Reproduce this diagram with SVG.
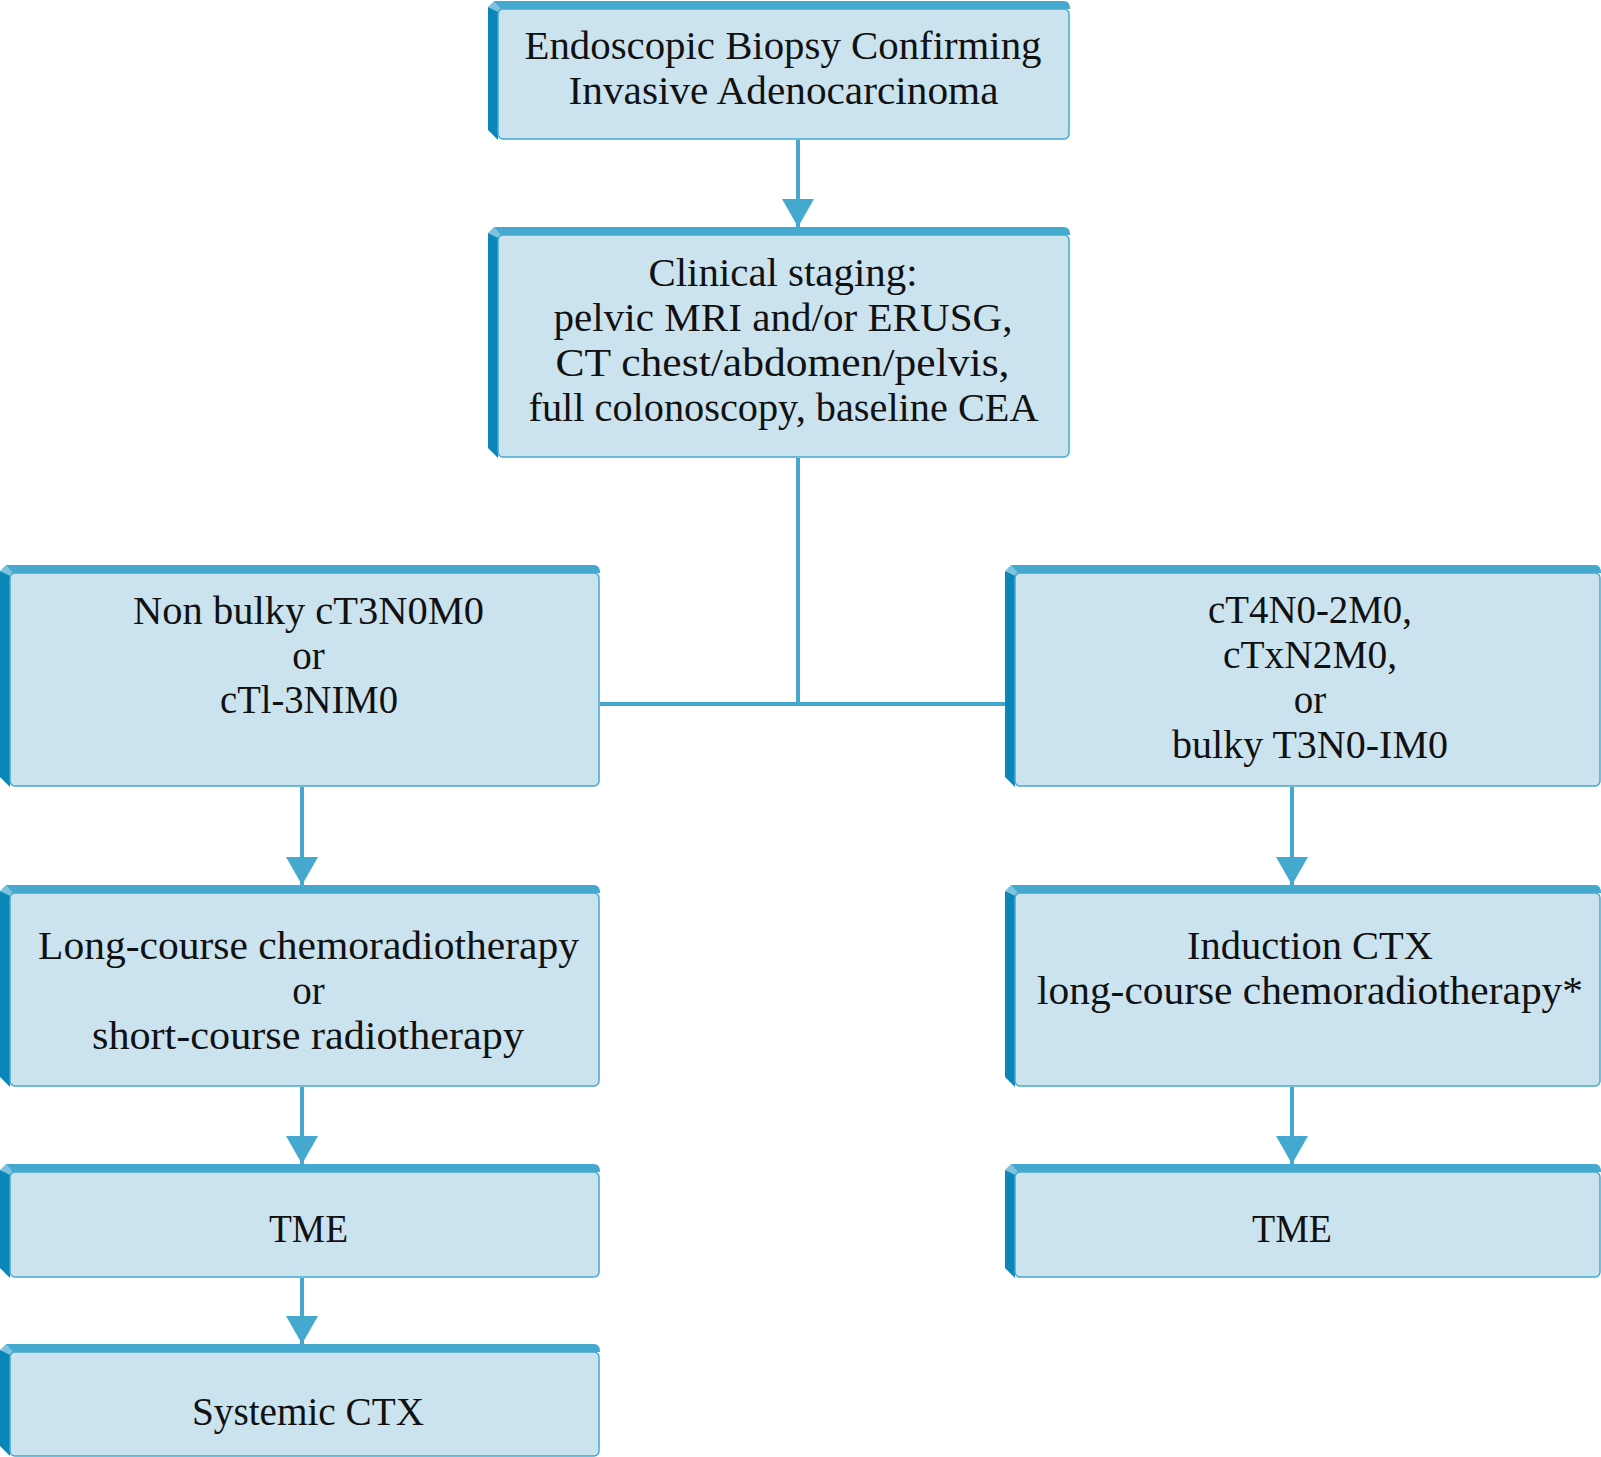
<svg xmlns="http://www.w3.org/2000/svg" width="1601" height="1457" viewBox="0 0 1601 1457">
<style>
.top{fill:#45a9cf}
.lft{fill:#0a87b8}
.cor{fill:#80c2de}
.face{fill:#cbe3ef;stroke:#45a9cf;stroke-width:1.5}
.t{font-family:"Liberation Serif","Times New Roman",serif;font-size:39px;fill:#111;text-anchor:middle}
.c{stroke:#45a9cf;stroke-width:4;fill:none}
</style>
<defs>
<marker id="ah" markerWidth="28" markerHeight="32" refX="28" refY="16" orient="auto" markerUnits="userSpaceOnUse" viewBox="0 0 28 32">
<path d="M0,0 L28,16 L0,32 Z" fill="#45a9cf"/>
</marker>
</defs>
<rect width="1601" height="1457" fill="#fff"/>

<g id="connectors">
<line class="c" x1="798" y1="140" x2="798" y2="227" marker-end="url(#ah)"/>
<polyline class="c" points="798,458 798,704"/>
<line class="c" x1="600" y1="704" x2="1005" y2="704"/>
<line class="c" x1="302" y1="787" x2="302" y2="885" marker-end="url(#ah)"/>
<line class="c" x1="302" y1="1087" x2="302" y2="1164" marker-end="url(#ah)"/>
<line class="c" x1="302" y1="1278" x2="302" y2="1344" marker-end="url(#ah)"/>
<line class="c" x1="1292" y1="787" x2="1292" y2="885" marker-end="url(#ah)"/>
<line class="c" x1="1292" y1="1087" x2="1292" y2="1164" marker-end="url(#ah)"/>
</g>

<g id="biopsy">
<path class="top" d="M494,1 L1064,1 Q1070,1 1070,9 L498,9 Z"/>
<path class="lft" d="M488,7 L498,9 L498,140 L488,130 Z"/>
<path class="cor" d="M488,7 L494,1 L501,9 L498,12 Z"/>
<rect class="face" x="498" y="9" width="571" height="130" rx="5"/>
<text class="t" x="783" y="59" textLength="517" lengthAdjust="spacingAndGlyphs">Endoscopic Biopsy Confirming</text>
<text class="t" x="783.5" y="104" textLength="430" lengthAdjust="spacingAndGlyphs">Invasive Adenocarcinoma</text>
</g>

<g id="staging">
<path class="top" d="M494,227 L1064,227 Q1070,227 1070,235 L498,235 Z"/>
<path class="lft" d="M488,233 L498,235 L498,458 L488,448 Z"/>
<path class="cor" d="M488,233 L494,227 L501,235 L498,238 Z"/>
<rect class="face" x="498" y="235" width="571" height="222" rx="5"/>
<text class="t" x="783" y="286" textLength="269" lengthAdjust="spacingAndGlyphs">Clinical staging:</text>
<text class="t" x="783" y="331" textLength="459" lengthAdjust="spacingAndGlyphs">pelvic MRI and/or ERUSG,</text>
<text class="t" x="782.5" y="376" textLength="454" lengthAdjust="spacingAndGlyphs">CT chest/abdomen/pelvis,</text>
<text class="t" x="783.5" y="421" textLength="510" lengthAdjust="spacingAndGlyphs">full colonoscopy, baseline CEA</text>
</g>

<g id="nonbulky">
<path class="top" d="M6,565 L594,565 Q600,565 600,573 L10,573 Z"/>
<path class="lft" d="M0,571 L10,573 L10,787 L0,777 Z"/>
<path class="cor" d="M0,571 L6,565 L13,573 L10,576 Z"/>
<rect class="face" x="10" y="573" width="589" height="213" rx="5"/>
<text class="t" x="308.5" y="624" textLength="351" lengthAdjust="spacingAndGlyphs">Non bulky cT3N0M0</text>
<text class="t" x="308.5" y="669">or</text>
<text class="t" x="309" y="713" textLength="178" lengthAdjust="spacingAndGlyphs">cTl-3NIM0</text>
</g>

<g id="advanced">
<path class="top" d="M1011,565 L1595,565 Q1601,565 1601,573 L1015,573 Z"/>
<path class="lft" d="M1005,571 L1015,573 L1015,787 L1005,777 Z"/>
<path class="cor" d="M1005,571 L1011,565 L1018,573 L1015,576 Z"/>
<rect class="face" x="1015" y="573" width="585" height="213" rx="5"/>
<text class="t" x="1310" y="623" textLength="204" lengthAdjust="spacingAndGlyphs">cT4N0-2M0,</text>
<text class="t" x="1310" y="668" textLength="174" lengthAdjust="spacingAndGlyphs">cTxN2M0,</text>
<text class="t" x="1310" y="713">or</text>
<text class="t" x="1310" y="758" textLength="276" lengthAdjust="spacingAndGlyphs">bulky T3N0-IM0</text>
</g>

<g id="lcrt">
<path class="top" d="M6,885 L594,885 Q600,885 600,893 L10,893 Z"/>
<path class="lft" d="M0,891 L10,893 L10,1087 L0,1077 Z"/>
<path class="cor" d="M0,891 L6,885 L13,893 L10,896 Z"/>
<rect class="face" x="10" y="893" width="589" height="193" rx="5"/>
<text class="t" x="308.5" y="959" textLength="541" lengthAdjust="spacingAndGlyphs">Long-course chemoradiotherapy</text>
<text class="t" x="308.5" y="1004">or</text>
<text class="t" x="308" y="1049" textLength="432" lengthAdjust="spacingAndGlyphs">short-course radiotherapy</text>
</g>

<g id="induction">
<path class="top" d="M1011,885 L1595,885 Q1601,885 1601,893 L1015,893 Z"/>
<path class="lft" d="M1005,891 L1015,893 L1015,1087 L1005,1077 Z"/>
<path class="cor" d="M1005,891 L1011,885 L1018,893 L1015,896 Z"/>
<rect class="face" x="1015" y="893" width="585" height="193" rx="5"/>
<text class="t" x="1310" y="959" textLength="246" lengthAdjust="spacingAndGlyphs">Induction CTX</text>
<text class="t" x="1310" y="1004" textLength="546" lengthAdjust="spacingAndGlyphs">long-course chemoradiotherapy*</text>
</g>

<g id="tme-left">
<path class="top" d="M6,1164 L594,1164 Q600,1164 600,1172 L10,1172 Z"/>
<path class="lft" d="M0,1170 L10,1172 L10,1278 L0,1268 Z"/>
<path class="cor" d="M0,1170 L6,1164 L13,1172 L10,1175 Z"/>
<rect class="face" x="10" y="1172" width="589" height="105" rx="5"/>
<text class="t" x="308.5" y="1242" textLength="79" lengthAdjust="spacingAndGlyphs">TME</text>
</g>

<g id="tme-right">
<path class="top" d="M1011,1164 L1595,1164 Q1601,1164 1601,1172 L1015,1172 Z"/>
<path class="lft" d="M1005,1170 L1015,1172 L1015,1278 L1005,1268 Z"/>
<path class="cor" d="M1005,1170 L1011,1164 L1018,1172 L1015,1175 Z"/>
<rect class="face" x="1015" y="1172" width="585" height="105" rx="5"/>
<text class="t" x="1292" y="1242" textLength="80" lengthAdjust="spacingAndGlyphs">TME</text>
</g>

<g id="systemic">
<path class="top" d="M6,1344 L594,1344 Q600,1344 600,1352 L10,1352 Z"/>
<path class="lft" d="M0,1350 L10,1352 L10,1456 L0,1446 Z"/>
<path class="cor" d="M0,1350 L6,1344 L13,1352 L10,1355 Z"/>
<rect class="face" x="10" y="1352" width="589" height="104" rx="5"/>
<text class="t" x="308" y="1425" textLength="232" lengthAdjust="spacingAndGlyphs">Systemic CTX</text>
</g>
</svg>
